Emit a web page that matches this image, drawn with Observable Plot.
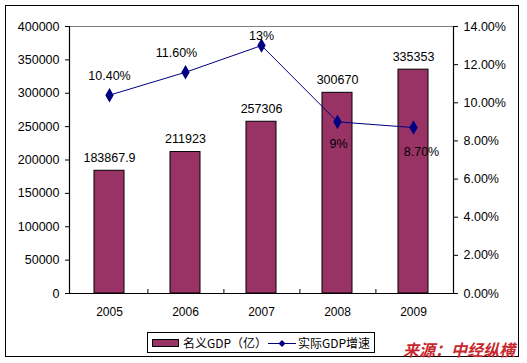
<!DOCTYPE html>
<html>
<head>
<meta charset="utf-8">
<script src="https://cdn.jsdelivr.net/npm/d3@7"></script>
<script src="https://cdn.jsdelivr.net/npm/@observablehq/plot@0.6"></script>
<style>
  html, body { margin: 0; padding: 0; background: #fff; }
  #wrap { position: relative; width: 527px; height: 363px; overflow: hidden; background: #fff; }
  #border { position: absolute; left: 5px; top: 5px; width: 512px; height: 350px; border: 1.5px solid #000; }
  #chart { position: absolute; left: 0; top: 0; }
  #legend { position: absolute; left: 147px; top: 332px; width: 226px; height: 19px; border: 1px solid #000; background: #fff;
            font-family: "Noto Sans CJK SC", sans-serif; font-size: 12px; line-height: 19px; color: #000; }
  .item { position: absolute; top: 0; white-space: nowrap; }
  .sw { display: inline-block; vertical-align: middle; }
  #source { position: absolute; left: 403px; top: 340px; font-family: "Noto Sans CJK SC", sans-serif; font-size: 16px;
            font-weight: bold; font-style: italic; color: #c8282d; white-space: nowrap; line-height: 18px; }
</style>
</head>
<body>
<div id="wrap">
  <div id="border"></div>
  <div id="chart"></div>
  <div id="legend"></div>
  <div id="source"></div>
</div>
<script>
const years = ["2005", "2006", "2007", "2008", "2009"];
const gdp = [183867.9, 211923, 257306, 300670, 335353];
const gdpLabels = ["183867.9", "211923", "257306", "300670", "335353"];
const growth = [10.4, 11.6, 13, 9, 8.7];
const growthLabels = ["10.40%", "11.60%", "13%", "9%", "8.70%"];
const leftTicks = [0, 50000, 100000, 150000, 200000, 250000, 300000, 350000, 400000];
const rightTicks = [0, 2, 4, 6, 8, 10, 12, 14];
const seriesNames = ["名义GDP（亿）", "实际GDP增速"];
const sourceText = "来源：中经纵横";

const yMax = 400000, pMax = 14;
const k = yMax / pMax;
const data = years.map((y, i) => ({year: y, gdp: gdp[i], gdpLabel: gdpLabels[i], growth: growth[i], growthLabel: growthLabels[i], i}));

const W = 527, H = 363;
const mL = 69, mR = 74, mT = 26, mB = 70;
const step = (W - mL - mR) / years.length;

const BAR = "#993366", LINE = "#000080";

function growthText(i, dx, dy) {
  return Plot.text(data.filter(d => d.i === i), {
    x: "year", y: d => d.growth * k, text: "growthLabel", dx, dy,
    fill: "#000", fontSize: 12.5
  });
}

const chart = Plot.plot({
  width: W, height: H,
  marginLeft: mL, marginRight: mR, marginTop: mT, marginBottom: mB,
  style: {fontFamily: "'Liberation Sans', Arial, sans-serif", fontSize: "12px", color: "#000", background: "transparent", overflow: "visible"},
  x: {type: "band", domain: years, paddingInner: 0.6, paddingOuter: 0.3, label: null},
  y: {domain: [0, yMax], label: null},
  marks: [
    Plot.frame({stroke: "#808080"}),
    Plot.barY(data, {x: "year", y: "gdp", fill: BAR, stroke: "#000", strokeWidth: 1}),
    Plot.ruleY([0], {stroke: "#000", strokeWidth: 1.2}),
    Plot.frame({anchor: "left", stroke: "#000", strokeWidth: 1.2}),
    Plot.frame({anchor: "right", stroke: "#000", strokeWidth: 1.2}),
    Plot.ruleX(years.slice(0, -1), {dx: step / 2, y1: 0, y2: 4 * yMax / (H - mT - mB), stroke: "#000"}),
    Plot.line(data, {x: "year", y: d => d.growth * k, stroke: LINE, strokeWidth: 1}),
    Plot.dot(data, {x: "year", y: d => d.growth * k, symbol: "diamond", r: 3.5, fill: LINE, stroke: LINE}),
    Plot.text(data, {x: "year", y: "gdp", text: "gdpLabel", dy: -13, fill: "#000", fontSize: 12.5}),
    growthText(0, 0, -19),
    growthText(1, -9, -19),
    growthText(2, 0, -10),
    growthText(3, 1, 22),
    growthText(4, 8, 24),
    Plot.axisY(leftTicks, {anchor: "left", tickSize: 4, tickPadding: 6, tickFormat: d3.format("d"), fontSize: 12.5, label: null}),
    Plot.axisY(rightTicks.map(v => v * k), {anchor: "right", tickSize: 4, tickPadding: 6, tickFormat: v => (v / k).toFixed(2) + "%", fontSize: 12.5, label: null}),
    Plot.axisX({anchor: "bottom", tickSize: 0, tickPadding: 14, fontSize: 12, label: null})
  ]
});
document.getElementById("chart").appendChild(chart);

// Legend
const legend = document.getElementById("legend");
legend.innerHTML = `
  <div class="item" style="left:4px;">
    <svg class="sw" width="28" height="9" style="margin-top:-2px"><rect x="0.5" y="0.5" width="26" height="7" fill="${BAR}" stroke="#000"/></svg><span style="margin-left:3px">${seriesNames[0]}</span>
  </div>
  <div class="item" style="left:120px;">
    <svg class="sw" width="28" height="9" style="margin-top:-2px"><line x1="0" y1="4.5" x2="28" y2="4.5" stroke="${LINE}"/><path d="M14,1 L17.5,4.5 L14,8 L10.5,4.5Z" fill="${LINE}"/></svg><span style="margin-left:2px">${seriesNames[1]}</span>
  </div>`;
document.getElementById("source").textContent = sourceText;
</script>
</body>
</html>
